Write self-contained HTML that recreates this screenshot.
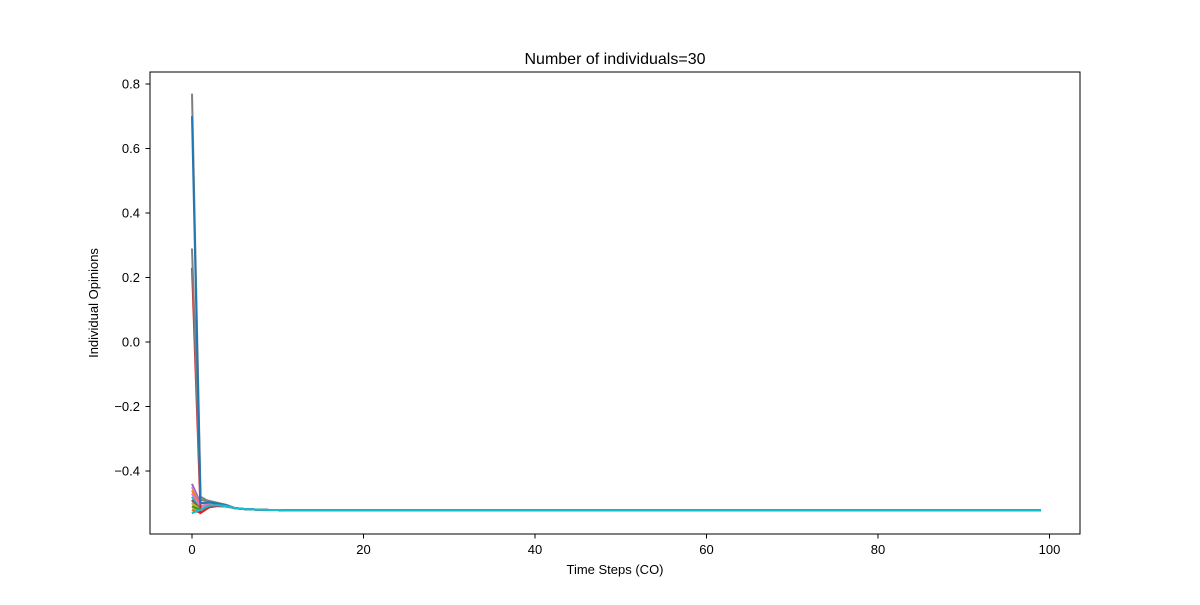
<!DOCTYPE html>
<html><head><meta charset="utf-8"><style>
body{margin:0;background:#fff;font-family:"Liberation Sans","DejaVu Sans",sans-serif}
</style></head><body>
<svg id="chart" width="1200" height="600" xmlns="http://www.w3.org/2000/svg">
<rect width="1200" height="600" fill="#fff"/>
<text x="615" y="64" text-anchor="middle" font-size="16">Number of individuals=30</text>
<g id="plot"></g>
<rect x="150" y="72" width="930" height="462" fill="none" stroke="#000" stroke-width="1"/>
<g id="xt"></g>
<g id="yt"></g>
<text x="615" y="574" text-anchor="middle" font-size="13">Time Steps (CO)</text>
<text transform="translate(98,303) rotate(-90)" text-anchor="middle" font-size="13">Individual Opinions</text>
</svg>
<script>
const startValues=[0.77,0.70,0.29,0.23,-0.44,-0.45,-0.46,-0.47,-0.48,-0.48,-0.49,-0.49,-0.50,-0.50,-0.50,-0.51,-0.51,-0.51,-0.52,-0.52,-0.52,-0.52,-0.53,-0.53,-0.53,-0.47,-0.49,-0.50,-0.51,-0.53];
const step1Values=[-0.48,-0.50,-0.49,-0.53,-0.50,-0.51,-0.51,-0.51,-0.52,-0.52,-0.52,-0.52,-0.52,-0.52,-0.52,-0.52,-0.52,-0.52,-0.52,-0.52,-0.53,-0.52,-0.52,-0.52,-0.52,-0.51,-0.52,-0.52,-0.52,-0.52];
const tailValues=[-0.495,-0.505,-0.511,-0.515,-0.518,-0.519,-0.520,-0.521,-0.521,-0.522,-0.522];
const consensusValue=-0.522;
const xTicks=[0,20,40,60,80,100];
const yTicks=[-0.4,-0.2,0.0,0.2,0.4,0.6,0.8];
const colors=["#7f7f7f","#1f77b4","#7f7f7f","#d62728","#9467bd","#e377c2","#ff7f0e","#8c564b","#bcbd22","#17becf","#2ca02c","#1f77b4","#ff7f0e","#d62728","#9467bd","#8c564b","#e377c2","#7f7f7f","#bcbd22","#2ca02c","#d62728","#ff7f0e","#1f77b4","#9467bd","#17becf","#e377c2","#8c564b","#bcbd22","#2ca02c","#17becf"];
const nSteps=100;
const X=v=>192+v*8.575, Y=v=>342-v*322.5;
const ns="http://www.w3.org/2000/svg";
const plot=document.getElementById('plot');
const order=[...startValues.keys()].slice(4,29).concat([3,2,0,1,29]);
order.forEach(i=>{
  const vals=[startValues[i],step1Values[i]];
  for(let t=2;t<nSteps;t++){const k=t-2;const tv=k<tailValues.length?tailValues[k]:consensusValue;
    vals.push(i==0?tv:(k<3?(vals[vals.length-1]+tv)/2:tv));}
  const p=document.createElementNS(ns,'polyline');
  p.setAttribute('points',vals.map((v,t)=>X(t)+','+Y(v)).join(' '));
  p.setAttribute('fill','none');p.setAttribute('stroke',colors[i]);p.setAttribute('stroke-width','2');
  
  
  plot.appendChild(p);
});
const xt=document.getElementById('xt');
xTicks.forEach(v=>{
  const l=document.createElementNS(ns,'line');l.setAttribute('x1',X(v));l.setAttribute('x2',X(v));l.setAttribute('y1',534);l.setAttribute('y2',538.5);l.setAttribute('stroke','#000');
  
  
  xt.appendChild(l);
  const t=document.createElementNS(ns,'text');t.setAttribute('x',X(v));t.setAttribute('y',554);t.setAttribute('text-anchor','middle');t.setAttribute('font-size','13');t.textContent=v;
  
  
  xt.appendChild(t);
});
const yt=document.getElementById('yt');
yTicks.forEach(v=>{
  const l=document.createElementNS(ns,'line');l.setAttribute('x1',145.5);l.setAttribute('x2',150);l.setAttribute('y1',Y(v));l.setAttribute('y2',Y(v));l.setAttribute('stroke','#000');
  
  
  yt.appendChild(l);
  const t=document.createElementNS(ns,'text');t.setAttribute('x',140);t.setAttribute('y',Y(v)+4.5);t.setAttribute('text-anchor','end');t.setAttribute('font-size','13');t.textContent=(v<0?'\u2212':'')+Math.abs(v).toFixed(1);
  
  
  yt.appendChild(t);
});
</script>
</body></html>
